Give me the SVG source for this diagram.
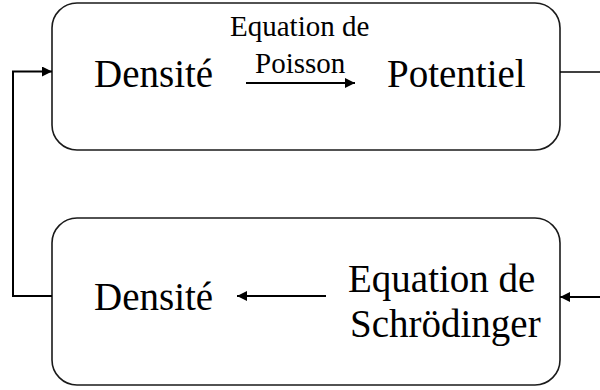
<svg xmlns="http://www.w3.org/2000/svg" width="600" height="390" viewBox="0 0 600 390">
<defs>
<style>
.box{fill:#fff;stroke:#1a1a1a;stroke-width:1.6}
text{fill:#000}
.big{font-size:39px}
.small{font-size:29px}
.c{fill:none;stroke:#000;stroke-width:2}
.c1{fill:none;stroke:#000;stroke-width:1.5}
</style>
<marker id="ah" markerWidth="10" markerHeight="10" refX="10" refY="5" orient="auto" markerUnits="userSpaceOnUse">
<path d="M0,0 L10,5 L0,10 Z" fill="#000"/>
</marker>
</defs>
<rect width="600" height="390" fill="#fff"/>
<g id="node-top" font-family="Liberation Serif, Times New Roman, serif">
<rect class="box" x="52" y="3" width="508" height="147" rx="25" ry="25"/>
<text class="big" x="94" y="87">Densité</text>
<text class="small" x="230" y="36">Equation de</text>
<text class="small" x="255" y="73">Poisson</text>
<text class="big" x="387" y="87">Potentiel</text>
<line class="c" x1="246" y1="83" x2="355" y2="83" marker-end="url(#ah)"/>
</g>
<g id="node-bottom" font-family="Liberation Serif, Times New Roman, serif">
<rect class="box" x="52" y="218" width="508" height="167" rx="25" ry="25"/>
<text class="big" x="94" y="310">Densité</text>
<text class="big" x="348" y="292">Equation de</text>
<text class="big" x="350" y="337">Schrödinger</text>
<line class="c" x1="326" y1="296" x2="237" y2="296" marker-end="url(#ah)"/>
</g>
<g id="connectors">
<polyline class="c" points="52,296 13,296 13,71.5 52,71.5" marker-end="url(#ah)"/>
<line class="c1" x1="560" y1="72" x2="600" y2="72"/>
<line class="c" x1="600" y1="297" x2="560" y2="297" marker-end="url(#ah)"/>
</g>
</svg>
